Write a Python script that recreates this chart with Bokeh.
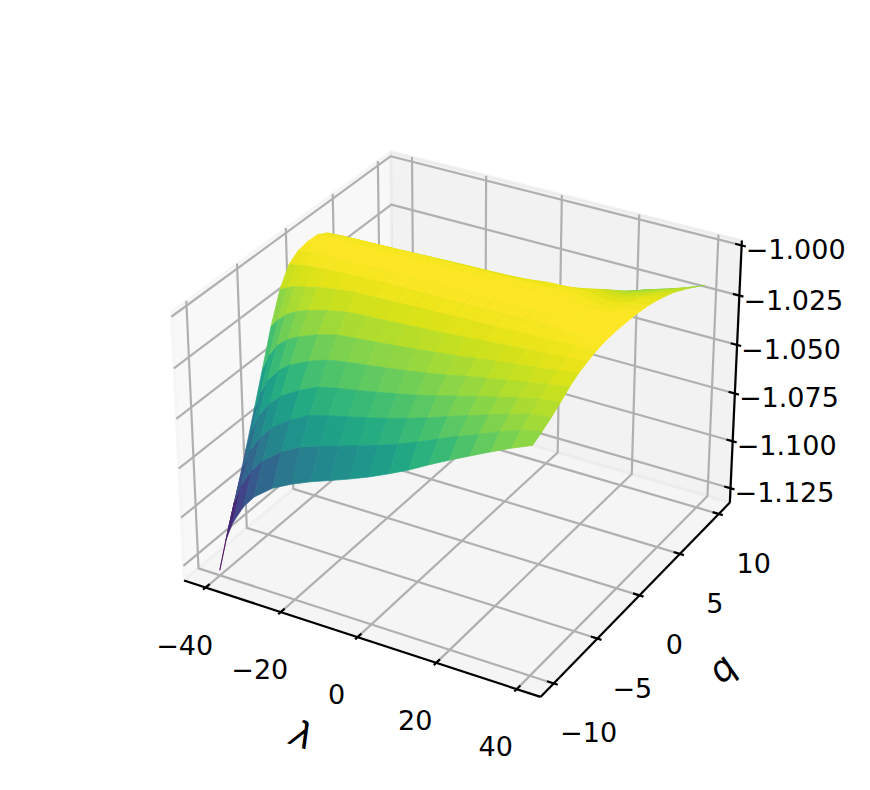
import numpy as np
from bokeh.plotting import figure
from bokeh.models import Range1d
from bokeh.embed import file_html
from bokeh.resources import INLINE
from bokeh.core.properties import value
from bokeh.palettes import Viridis256

# ---------------- data ----------------
lam_values = [-40, -38, -36, -33, -30, -25, -20, -15, -10, -5, 0, 5, 10, 15, 20, 25, 30, 35, 40]
q_values = [-10, -9, -8, -7, -6, -5, -4, -3, -2, -1, 0, 1, 2, 3, 4, 5, 6, 7, 8, 9, 10]

# surface height, one list per lambda value (q = -10 ... 10)
z_lam_m40 = [-1.1300, -1.1130, -1.0975, -1.0810, -1.0640, -1.0467, -1.0290, -1.0145, -1.0055, -1.0022, -1.0012,
             -1.0015, -1.0040, -1.0085, -1.0160, -1.0250, -1.0345, -1.0440, -1.0532, -1.0620, -1.0705]
z_lam_m38 = [-1.1130, -1.0973, -1.0833, -1.0687, -1.0535, -1.0384, -1.0244, -1.0126, -1.0051, -1.0019, -1.0008,
             -1.0013, -1.0038, -1.0083, -1.0158, -1.0248, -1.0342, -1.0437, -1.0528, -1.0616, -1.0700]
z_lam_m36 = [-1.1030, -1.0876, -1.0738, -1.0600, -1.0462, -1.0329, -1.0211, -1.0108, -1.0042, -1.0014, -1.0006,
             -1.0011, -1.0036, -1.0082, -1.0157, -1.0246, -1.0340, -1.0435, -1.0526, -1.0613, -1.0696]
z_lam_m33 = [-1.0930, -1.0782, -1.0652, -1.0523, -1.0398, -1.0282, -1.0180, -1.0097, -1.0036, -1.0011, -1.0004,
             -1.0009, -1.0034, -1.0081, -1.0155, -1.0244, -1.0338, -1.0432, -1.0523, -1.0610, -1.0692]
z_lam_m30 = [-1.0860, -1.0715, -1.0590, -1.0471, -1.0355, -1.0252, -1.0158, -1.0081, -1.0030, -1.0009, -1.0004,
             -1.0008, -1.0032, -1.0080, -1.0154, -1.0242, -1.0336, -1.0430, -1.0520, -1.0606, -1.0688]
z_lam_m25 = [-1.0785, -1.0641, -1.0523, -1.0414, -1.0309, -1.0215, -1.0133, -1.0067, -1.0024, -1.0008, -1.0004,
             -1.0008, -1.0030, -1.0076, -1.0150, -1.0238, -1.0332, -1.0425, -1.0515, -1.0600, -1.0680]
z_lam_m20 = [-1.0735, -1.0589, -1.0472, -1.0370, -1.0275, -1.0190, -1.0114, -1.0055, -1.0020, -1.0007, -1.0004,
             -1.0007, -1.0028, -1.0073, -1.0147, -1.0235, -1.0328, -1.0420, -1.0508, -1.0592, -1.0672]
z_lam_m15 = [-1.0693, -1.0555, -1.0445, -1.0349, -1.0259, -1.0180, -1.0107, -1.0052, -1.0019, -1.0007, -1.0004,
             -1.0007, -1.0026, -1.0069, -1.0143, -1.0230, -1.0322, -1.0413, -1.0500, -1.0582, -1.0660]
z_lam_m10 = [-1.0657, -1.0526, -1.0422, -1.0331, -1.0246, -1.0171, -1.0102, -1.0050, -1.0018, -1.0007, -1.0004,
             -1.0006, -1.0024, -1.0066, -1.0139, -1.0225, -1.0315, -1.0404, -1.0490, -1.0570, -1.0645]
z_lam_m05 = [-1.0620, -1.0497, -1.0398, -1.0312, -1.0232, -1.0161, -1.0096, -1.0047, -1.0018, -1.0007, -1.0004,
             -1.0006, -1.0023, -1.0063, -1.0135, -1.0220, -1.0308, -1.0395, -1.0478, -1.0555, -1.0628]
z_lam_p00 = [-1.0580, -1.0465, -1.0373, -1.0292, -1.0217, -1.0151, -1.0090, -1.0044, -1.0017, -1.0006, -1.0004,
             -1.0006, -1.0022, -1.0061, -1.0132, -1.0215, -1.0300, -1.0385, -1.0465, -1.0540, -1.0610]
z_lam_p05 = [-1.0535, -1.0429, -1.0344, -1.0270, -1.0201, -1.0139, -1.0084, -1.0041, -1.0016, -1.0006, -1.0004,
             -1.0005, -1.0021, -1.0058, -1.0128, -1.0208, -1.0290, -1.0370, -1.0445, -1.0515, -1.0580]
z_lam_p10 = [-1.0487, -1.0390, -1.0313, -1.0246, -1.0183, -1.0127, -1.0076, -1.0038, -1.0015, -1.0006, -1.0004,
             -1.0005, -1.0019, -1.0052, -1.0120, -1.0195, -1.0270, -1.0340, -1.0405, -1.0465, -1.0520]
z_lam_p15 = [-1.0432, -1.0346, -1.0278, -1.0218, -1.0162, -1.0113, -1.0068, -1.0034, -1.0013, -1.0006, -1.0004,
             -1.0005, -1.0016, -1.0040, -1.0105, -1.0175, -1.0240, -1.0300, -1.0355, -1.0405, -1.0450]
z_lam_p20 = [-1.0380, -1.0305, -1.0245, -1.0192, -1.0143, -1.0100, -1.0060, -1.0030, -1.0012, -1.0006, -1.0004,
             -1.0005, -1.0014, -1.0036, -1.0078, -1.0145, -1.0205, -1.0260, -1.0310, -1.0355, -1.0395]
z_lam_p25 = [-1.0331, -1.0266, -1.0213, -1.0168, -1.0125, -1.0087, -1.0053, -1.0027, -1.0011, -1.0005, -1.0004,
             -1.0007, -1.0016, -1.0032, -1.0058, -1.0095, -1.0135, -1.0175, -1.0212, -1.0246, -1.0278]
z_lam_p30 = [-1.0282, -1.0226, -1.0182, -1.0143, -1.0107, -1.0075, -1.0046, -1.0024, -1.0010, -1.0005, -1.0004,
             -1.0014, -1.0031, -1.0051, -1.0073, -1.0097, -1.0121, -1.0149, -1.0178, -1.0213, -1.0251]
z_lam_p35 = [-1.0235, -1.0189, -1.0152, -1.0120, -1.0090, -1.0063, -1.0039, -1.0020, -1.0009, -1.0005, -1.0004,
             -1.0010, -1.0021, -1.0035, -1.0052, -1.0072, -1.0095, -1.0121, -1.0150, -1.0182, -1.0217]
z_lam_p40 = [-1.0193, -1.0168, -1.0140, -1.0108, -1.0072, -1.0045, -1.0027, -1.0013, -1.0005, -1.0003, -1.0004,
             -1.0007, -1.0012, -1.0020, -1.0033, -1.0049, -1.0067, -1.0092, -1.0118, -1.0146, -1.0176]

lam_ticks = [-40, -20, 0, 20, 40]
lam_tick_labels = ["\u221240", "\u221220", "0", "20", "40"]
q_ticks = [-10, -5, 0, 5, 10]
q_tick_labels = ["\u221210", "\u22125", "0", "5", "10"]
z_ticks = [-1.125, -1.100, -1.075, -1.050, -1.025, -1.000]
z_tick_labels = ["\u22121.125", "\u22121.100", "\u22121.075", "\u22121.050", "\u22121.025", "\u22121.000"]
x_label = "\u03bb"
y_label = "q"

# ---------------- 3D set-up (matplotlib-like camera) ----------------
Z = np.array([z_lam_m40, z_lam_m38, z_lam_m36, z_lam_m33, z_lam_m30, z_lam_m25, z_lam_m20,
              z_lam_m15, z_lam_m10, z_lam_m05, z_lam_p00, z_lam_p05, z_lam_p10, z_lam_p15,
              z_lam_p20, z_lam_p25, z_lam_p30, z_lam_p35, z_lam_p40], dtype=float)
LAM = np.array(lam_values, dtype=float)
QV = np.array(q_values, dtype=float)
assert Z.shape == (len(LAM), len(QV))


def with_margin(v, m):
    lo, hi = float(np.min(v)), float(np.max(v))
    d = (hi - lo) * m
    return lo - d, hi + d


X_LIM = with_margin(LAM, 0.05)
Y_LIM = with_margin(QV, 0.05)
Z_LIM = with_margin(Z, 0.0)


def padded(l):
    d = (l[1] - l[0]) / 48.0
    return l[0] - d, l[1] + d


XB, YB, ZB = padded(X_LIM), padded(Y_LIM), padded(Z_LIM)
DELTA = [(l[1] - l[0]) / 12.0 for l in (X_LIM, Y_LIM, Z_LIM)]

ELEV, AZIM, DIST = 30.0, -60.0, 10.0
BOX = np.array([4.0, 4.0, 3.0]) / 3.5
_el, _az = np.deg2rad(ELEV), np.deg2rad(AZIM)
_R = BOX / 2.0
N = np.array([np.cos(_el) * np.cos(_az), np.cos(_el) * np.sin(_az), np.sin(_el)])
EYE = _R + DIST * N
U = np.cross([0.0, 0.0, 1.0], N)
U = U / np.linalg.norm(U)
V = np.cross(N, U)


def project(x, y, z):
    x = np.asarray(x, dtype=float)
    y = np.asarray(y, dtype=float)
    z = np.asarray(z, dtype=float)
    xw = (x - X_LIM[0]) / (X_LIM[1] - X_LIM[0]) * BOX[0] - EYE[0]
    yw = (y - Y_LIM[0]) / (Y_LIM[1] - Y_LIM[0]) * BOX[1] - EYE[1]
    zw = (z - Z_LIM[0]) / (Z_LIM[1] - Z_LIM[0]) * BOX[2] - EYE[2]
    xv = U[0] * xw + U[1] * yw + U[2] * zw
    yv = V[0] * xw + V[1] * yw + V[2] * zw
    zv = N[0] * xw + N[1] * yw + N[2] * zw
    return xv / -zv, yv / -zv, zv


# placement of the projected view inside the figure
S = 3430.0             # pixels per projected unit
CX, CY = 461.5, 410.6  # pixel of the view centre
W, H = 850, 770
OFF = 0.0

p = figure(width=W, height=H,
           x_range=Range1d((OFF - CX) / S, (OFF + W - CX) / S),
           y_range=Range1d((CY - OFF - H) / S, (CY - OFF) / S),
           x_axis_type=None, y_axis_type=None,
           output_backend="svg", toolbar_location=None, min_border=0)
p.outline_line_color = None
p.background_fill_color = "white"
p.border_fill_color = "white"

FONT = value("DejaVu Sans")

# ---------------- panes ----------------
x0, x1 = XB
y0, y1 = YB
z0, z1 = ZB
panes = [
    ([x0, x0, x0, x0], [y0, y1, y1, y0], [z0, z0, z1, z1], "#f2f2f2"),
    ([x0, x1, x1, x0], [y1, y1, y1, y1], [z0, z0, z1, z1], "#e6e6e6"),
    ([x0, x1, x1, x0], [y0, y0, y1, y1], [z0, z0, z0, z0], "#ececec"),
]
for px_, py_, pz_, col in panes:
    sx, sy, _ = project(px_, py_, pz_)
    p.patch(list(sx), list(sy), fill_color=col, fill_alpha=0.5,
            line_color=col, line_alpha=0.5, line_width=2.8)

# ---------------- grid lines ----------------
gx, gy = [], []
for t in lam_ticks:
    sx, sy, _ = project([t, t, t], [y0, y1, y1], [z0, z0, z1])
    gx.append(list(sx)); gy.append(list(sy))
for t in q_ticks:
    sx, sy, _ = project([x0, x0, x1], [t, t, t], [z1, z0, z0])
    gx.append(list(sx)); gy.append(list(sy))
for t in z_ticks:
    sx, sy, _ = project([x1, x0, x0], [y1, y1, y0], [t, t, t])
    gx.append(list(sx)); gy.append(list(sy))
p.multi_line(gx, gy, line_color="#b0b0b0", line_width=2.2)

# ---------------- axis lines and ticks ----------------
ax_x, ax_y = [], []
for seg in [([x0, x1], [y0, y0], [z0, z0]),
            ([x1, x1], [y0, y1], [z0, z0]),
            ([x1, x1], [y1, y1], [z0, z1])]:
    sx, sy, _ = project(*seg)
    ax_x.append(list(sx)); ax_y.append(list(sy))
IN_F, OUT_F = 0.22, 0.14
for t in lam_ticks:
    sx, sy, _ = project([t, t], [y0 - OUT_F * DELTA[1], y0 + IN_F * DELTA[1]], [z0, z0])
    ax_x.append(list(sx)); ax_y.append(list(sy))
for t in q_ticks:
    sx, sy, _ = project([x1 + OUT_F * DELTA[0], x1 - IN_F * DELTA[0]], [t, t], [z0, z0])
    ax_x.append(list(sx)); ax_y.append(list(sy))
for t in z_ticks:
    sx, sy, _ = project([x1 + OUT_F * DELTA[0], x1 - IN_F * DELTA[0]], [y1, y1], [t, t])
    ax_x.append(list(sx)); ax_y.append(list(sy))
p.multi_line(ax_x, ax_y, line_color="black", line_width=2.2)

# ---------------- tick labels ----------------
def labels_at(xs, ys, zs, texts, off_px, off_py):
    sx, sy, _ = project(xs, ys, zs)
    p.text(x=list(sx + off_px / S), y=list(sy - off_py / S), text=texts,
           text_font=FONT, text_font_size=value("27px"), text_color="black",
           text_align="center", text_baseline="middle")


labels_at(lam_ticks, [y0] * 5, [z0] * 5, lam_tick_labels, -21, 57)
labels_at([x1] * 5, q_ticks, [z0] * 5, q_tick_labels, 35, 49)
labels_at([x1] * 6, [y1] * 6, z_ticks, z_tick_labels, 54, 4)

# ---------------- axis labels ----------------
ax0 = project([x0, x1], [y0, y0], [z0, z0])
ang_x = float(np.arctan2(ax0[1][1] - ax0[1][0], ax0[0][1] - ax0[0][0]))
mx, my, _ = project([0.5 * (x0 + x1)], [y0], [z0])
p.text(x=[mx[0] - 55 / S], y=[my[0] - 98 / S], text=[x_label], angle=ang_x,
       text_font=FONT, text_font_size=value("36px"), text_font_style="italic",
       text_align="center", text_baseline="middle", text_color="black")
ay0 = project([x1, x1], [y0, y1], [z0, z0])
ang_y = float(np.arctan2(ay0[1][1] - ay0[1][0], ay0[0][1] - ay0[0][0]))
mx, my, _ = project([x1], [0.5 * (y0 + y1)], [z0])
p.text(x=[mx[0] + 82 / S], y=[my[0] - 73 / S], text=[y_label], angle=ang_y,
       text_font=FONT, text_font_size=value("36px"), text_font_style="italic",
       text_align="center", text_baseline="middle", text_color="black")

# ---------------- surface (painter's algorithm) ----------------
nl, nq = Z.shape
fx, fy, depth, avgz = [], [], [], []
for i in range(nl - 1):
    for j in range(nq - 1):
        ii = [i, i + 1, i + 1, i]
        jj = [j, j, j + 1, j + 1]
        sx, sy, sz = project(LAM[ii], QV[jj], Z[ii, jj])
        fx.append(list(sx)); fy.append(list(sy))
        depth.append(float(np.mean(sz)))
        avgz.append(float(np.mean(Z[ii, jj])))
avgz = np.array(avgz)
nrm = (avgz - avgz.min()) / (avgz.max() - avgz.min())
idx = np.minimum((nrm * 256).astype(int), 255)
cols = [Viridis256[k] for k in idx]
order = np.argsort(depth)
p.patches([fx[k] for k in order], [fy[k] for k in order],
          fill_color=[cols[k] for k in order], line_color=[cols[k] for k in order],
          line_width=0.7)

open("out.html", "w").write(file_html(p, INLINE))
